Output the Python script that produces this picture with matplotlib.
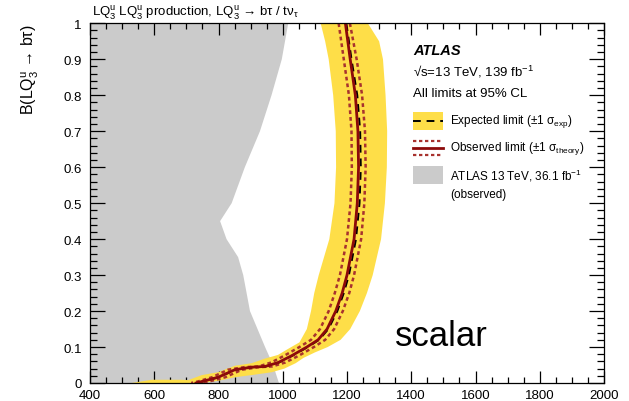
import matplotlib
matplotlib.use("Agg")
import matplotlib.pyplot as plt
from matplotlib.patches import Rectangle
from matplotlib.lines import Line2D
from matplotlib.ticker import MultipleLocator, FixedLocator, FixedFormatter

plt.rcParams['font.family'] = ['Liberation Sans', 'DejaVu Sans']
plt.rcParams['mathtext.fontset'] = 'custom'
plt.rcParams['mathtext.rm'] = 'Liberation Sans'
plt.rcParams['mathtext.it'] = 'Liberation Sans:italic'
plt.rcParams['mathtext.bf'] = 'Liberation Sans:bold'

# ---------------- data (mass in GeV, B = branching ratio) ----------------
# previous ATLAS 36.1 fb-1 observed exclusion boundary
prev_B = [1.0, 0.9, 0.8, 0.7, 0.6, 0.5, 0.45, 0.4, 0.35, 0.3, 0.2, 0.1, 0.05, 0.0]
prev_M = [1017, 997, 965, 929, 882, 841, 805, 825, 861, 877, 898, 945, 970, 988]

# observed limit
obs_B = [1.0, 0.9, 0.8, 0.7, 0.6, 0.5, 0.4, 0.3, 0.25, 0.2, 0.15, 0.12, 0.1, 0.076, 0.057, 0.046, 0.044, 0.037, 0.016, 0.004, 0.0]
obs_M = [1195, 1210, 1226, 1234, 1236, 1232, 1222, 1200, 1185, 1165, 1138, 1110, 1075, 1028, 986, 945, 903, 851, 799, 748, 730]

# observed +-1 sigma theory
obs_dn_M = [1174, 1190, 1206, 1214, 1215, 1211, 1200, 1178, 1162, 1143, 1116, 1088, 1052, 1005, 964, 925, 880, 830, 780, 735, 715]
obs_up_M = [1209, 1230, 1247, 1256, 1258, 1254, 1244, 1222, 1207, 1187, 1160, 1132, 1097, 1050, 1008, 967, 925, 873, 821, 770, 750]

# expected limit
exp_M = [1198, 1214, 1232, 1241, 1243, 1239, 1228, 1206, 1190, 1170, 1142, 1113, 1078, 1030, 988, 947, 905, 853, 800, 750, 732]

# expected -1 sigma contour (lower masses)
exp_lo_B = [1.0, 0.95, 0.9, 0.8, 0.7, 0.6, 0.5, 0.4, 0.3, 0.25, 0.2, 0.15, 0.113, 0.094, 0.078, 0.068, 0.055, 0.048, 0.03, 0.022, 0.008, 0.009, 0.009, 0.0]
exp_lo_M = [1118, 1132, 1143, 1157, 1165, 1166, 1161, 1145, 1112, 1098, 1088, 1075, 1052, 1015, 985, 945, 903, 851, 799, 748, 706, 685, 592, 530]

# expected +1 sigma contour (higher masses)
exp_hi_B = [1.0, 0.95, 0.9, 0.8, 0.7, 0.6, 0.5, 0.4, 0.3, 0.25, 0.2, 0.15, 0.12, 0.1, 0.085, 0.07, 0.055, 0.04, 0.03, 0.022, 0.016, 0.006, 0.0]
exp_hi_M = [1265, 1300, 1312, 1320, 1325, 1324, 1318, 1306, 1280, 1262, 1240, 1210, 1180, 1140, 1100, 1065, 1040, 1005, 966, 903, 851, 799, 748]

x_ticks = [400, 600, 800, 1000, 1200, 1400, 1600, 1800, 2000]
y_ticks = [0, 0.1, 0.2, 0.3, 0.4, 0.5, 0.6, 0.7, 0.8, 0.9, 1.0]
y_tick_labels = ['0', '0.1', '0.2', '0.3', '0.4', '0.5', '0.6', '0.7', '0.8', '0.9', '1']

# ---------------- figure ----------------
W, H = 629, 402
fig = plt.figure(figsize=(W / 100, H / 100), dpi=100)
ax = fig.add_axes([90 / W, (H - 384) / H, (604 - 90) / W, (384 - 24.3) / H])

yellow = '#FEDE48'
gray = '#CBCBCB'
dred = '#8C0A0A'
tred = '#A8322E'
dot = (0, (1.5, 1.2))

# grey region: from x-axis left edge to boundary
gx = [400] + prev_M + [400]
gy = [prev_B[0]] + prev_B + [prev_B[-1]]
ax.fill(gx, gy, color=gray, lw=0, zorder=1)

# yellow band: polygon between the two contours
bx = exp_lo_M + exp_hi_M[::-1]
by = exp_lo_B + exp_hi_B[::-1]
ax.fill(bx, by, color=yellow, lw=0, zorder=2)

ax.plot(obs_dn_M, obs_B, color=tred, lw=1.8, ls=dot, zorder=3)
ax.plot(obs_up_M, obs_B, color=tred, lw=1.8, ls=dot, zorder=3)
ax.plot(exp_M, obs_B, color='black', lw=1.4, ls=(0, (4, 3)), zorder=4)
ax.plot(obs_M, obs_B, color=dred, lw=2.0, zorder=5)

ax.set_xlim(400, 2000)
ax.set_ylim(0, 1)

ax.xaxis.set_major_locator(FixedLocator(x_ticks))
ax.xaxis.set_minor_locator(MultipleLocator(50))
ax.yaxis.set_major_locator(FixedLocator(y_ticks))
ax.yaxis.set_major_formatter(FixedFormatter(y_tick_labels))
ax.yaxis.set_minor_locator(MultipleLocator(0.02))

ax.tick_params(axis='both', which='both', direction='in', top=True, right=True, width=0.9, colors='black')
ax.tick_params(axis='x', which='major', length=8.5, pad=4, labelsize=9.5)
ax.tick_params(axis='x', which='minor', length=4.3)
ax.tick_params(axis='y', which='major', length=10.5, pad=6, labelsize=9.5)
ax.tick_params(axis='y', which='minor', length=5.3)
for s in ax.spines.values():
    s.set_linewidth(0.9)
    s.set_zorder(10)

# title and axis label
fig.text(92 / W, 1 - 13 / H,
         r'LQ$_3^{\mathregular{u}}$ LQ$_3^{\mathregular{u}}$ production, LQ$_3^{\mathregular{u}}$ → bτ / tν$_{\mathregular{τ}}$',
         fontsize=9.5, ha='left', va='center')
fig.text(30 / W, 1 - 24 / H, r'B(LQ$_3^{\mathregular{u}}$ → bτ)',
         fontsize=11.5, rotation=90, ha='center', va='top')

# ATLAS labels
fig.text(413 / W, 1 - 51 / H, 'ATLAS', fontsize=10.5, fontweight='bold', fontstyle='italic', ha='left', va='center')
fig.text(413 / W, 1 - 72 / H, r'√s=13 TeV, 139 fb$^{\mathregular{-1}}$', fontsize=9.5, ha='left', va='center')
fig.text(413 / W, 1 - 94 / H, 'All limits at 95% CL', fontsize=9.5, ha='left', va='center')

# legend
def fxy(px, py):
    return px / W, 1 - py / H

x0, x1 = 413, 443
r1 = Rectangle(fxy(x0, 131), (x1 - x0) / W, 18 / H, transform=fig.transFigure, color=yellow, lw=0)
fig.add_artist(r1)
fig.add_artist(Line2D([x0 / W, x1 / W], [1 - 122 / H] * 2, transform=fig.transFigure,
                      color='black', lw=1.4, ls=(0, (4, 3))))
fig.add_artist(Line2D([x0 / W, x1 / W], [1 - 142 / H] * 2, transform=fig.transFigure,
                      color=tred, lw=1.6, ls=dot))
fig.add_artist(Line2D([x0 / W, x1 / W], [1 - 149 / H] * 2, transform=fig.transFigure,
                      color=dred, lw=2.0))
fig.add_artist(Line2D([x0 / W, x1 / W], [1 - 156 / H] * 2, transform=fig.transFigure,
                      color=tred, lw=1.6, ls=dot))
r3 = Rectangle(fxy(x0, 185), (x1 - x0) / W, 18 / H, transform=fig.transFigure, color=gray, lw=0)
fig.add_artist(r3)

fig.text(450 / W, 1 - 122 / H, r'Expected limit ($\mathregular{\pm}$1 σ$_{\mathregular{exp}}$)', fontsize=8.5, ha='left', va='center')
fig.text(450 / W, 1 - 149 / H, r'Observed limit ($\mathregular{\pm}$1 σ$_{\mathregular{theory}}$)', fontsize=8.5, ha='left', va='center')
fig.text(450 / W, 1 - 176 / H, r'ATLAS 13 TeV, 36.1 fb$^{\mathregular{-1}}$', fontsize=8.5, ha='left', va='center')
fig.text(450 / W, 1 - 195 / H, '(observed)', fontsize=8.5, ha='left', va='center')

fig.text(441 / W, 1 - 337 / H, 'scalar', fontsize=25, ha='center', va='center')

fig.savefig('out.png', dpi=100)
